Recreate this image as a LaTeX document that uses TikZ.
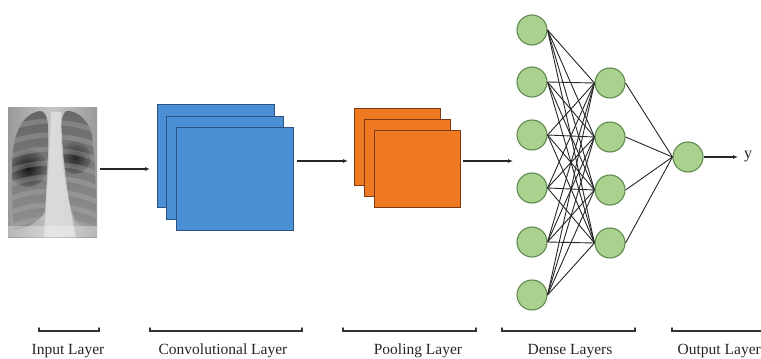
\documentclass[tikz,border=0pt]{standalone}
\usepackage{fontspec}
\setmainfont{Liberation Serif}
\usetikzlibrary{arrows.meta}
\definecolor{convfill}{HTML}{4A8FD4}
\definecolor{convline}{HTML}{2B5281}
\definecolor{poolfill}{HTML}{F07A22}
\definecolor{poolline}{HTML}{7E3A12}
\definecolor{neurfill}{HTML}{AAD28E}
\definecolor{neurline}{HTML}{5F8A4E}
\definecolor{brk}{HTML}{333333}
\begin{document}
\begin{tikzpicture}[x=1pt,y=-1pt,
  convbox/.style={draw=convline,fill=convfill,line width=1.3pt,minimum width=117pt,minimum height=103pt,anchor=north west,inner sep=0pt},
  poolbox/.style={draw=poolline,fill=poolfill,line width=1.3pt,minimum width=86pt,minimum height=77pt,anchor=north west,inner sep=0pt},
  neuron/.style={circle,draw=neurline,fill=neurfill,line width=1.1pt,minimum size=30pt,inner sep=0pt},
  arr/.style={-{Latex[length=5pt,width=4pt]},line width=1.2pt,black!85},
  edge/.style={line width=0.9pt,black!85},
  brack/.style={line width=1.5pt,brk},
  lbl/.style={font=\fontsize{15.5}{17}\selectfont,text=black!85,inner sep=0pt}]
\useasboundingbox (0,0) rectangle (761,359);

% ---------- X-ray ----------
\node[minimum width=89pt,minimum height=130pt,anchor=north west,inner sep=0pt] (xray) at (8,107) {};
\begin{scope}
  \clip (8,107) rectangle (97,237);
  \shade[left color=gray!80,right color=gray!80,middle color=gray!45] (8,107) rectangle (97,237);
  % left lung
  \begin{scope}
    \clip (40,111) .. controls (28,112) and (16,125) .. (13,150) .. controls (11,180) and (12,210) .. (14,230) .. controls (28,228) and (38,222) .. (45,212) .. controls (46,190) and (49,150) .. (48,125) .. controls (47,115) and (44,111) .. (40,111) -- cycle;
    \shade[top color=black!62,bottom color=black!42] (0,100) rectangle (60,240);
    \shade[inner color=black!92,outer color=black!58] (28,168) circle (19);
    \foreach \yy in {121,135,149,163,177,191,205,219}
      \draw[line width=5pt,gray!55,opacity=0.3] (52,\yy) .. controls (35,\yy) and (20,\yy+3) .. (5,\yy+10);
  \end{scope}
  % right lung
  \begin{scope}
    \clip (66,111) .. controls (62,115) and (60,125) .. (61,140) .. controls (63,170) and (66,200) .. (76,222) .. controls (85,227) and (92,229) .. (96,229) .. controls (97,200) and (95,160) .. (92,135) .. controls (88,118) and (75,110) .. (66,111) -- cycle;
    \shade[top color=black!60,bottom color=black!42] (55,100) rectangle (100,240);
    \shade[inner color=black!85,outer color=black!58] (75,158) circle (16);
    \foreach \yy in {123,137,151,165,179,193,207,221}
      \draw[line width=5pt,gray!55,opacity=0.3] (58,\yy) .. controls (72,\yy) and (85,\yy+3) .. (100,\yy+10);
  \end{scope}
  % mediastinum / spine
  \fill[gray!20,opacity=0.7] (51,112) .. controls (50,150) and (47,190) .. (44,237) -- (76,237) .. controls (68,200) and (62,160) .. (61,112) -- cycle;
  \fill[white,opacity=0.3] (8,226) rectangle (97,237);
\end{scope}

% ---------- Convolutional layer ----------
\node[convbox] (conv1) at (157,104) {};
\node[convbox] (conv2) at (166,116) {};
\node[convbox] (conv3) at (176,127) {};

% ---------- Pooling layer ----------
\node[poolbox] (pool1) at (354,108) {};
\node[poolbox] (pool2) at (364,119) {};
\node[poolbox] (pool3) at (374,130) {};

% ---------- Dense layers ----------
\foreach \i/\yy in {1/30,2/82,3/135,4/188,5/242,6/295}
  \node[neuron] (a\i) at (532,\yy) {};
\foreach \j/\yy in {1/83,2/137,3/190,4/243}
  \node[neuron] (b\j) at (610,\yy) {};
\node[neuron] (out) at (688,157) {};
\foreach \i in {1,...,6}
  \foreach \j in {1,...,4}
    \draw[edge] (a\i.east) -- (b\j.west);
\foreach \j in {1,...,4}
  \draw[edge] (b\j.east) -- (out.west);

% ---------- Arrows ----------
\coordinate (e1) at (150,169);
\coordinate (s2) at (297,161);
\coordinate (e2) at (348,161);
\coordinate (s3) at (463,161);
\coordinate (e3) at (513,161);
\node[lbl,font=\fontsize{16}{18}\selectfont,anchor=west] (y) at (744,157) {y};
\draw[arr] (xray.east |- e1) ++(3,0) -- (e1);
\draw[arr] (s2) -- (e2);
\draw[arr] (s3) -- (e3);
\draw[arr,shorten >=6pt] (out.east) -- (y.west |- out.east);

% ---------- Brackets & labels ----------
\foreach \n/\xa/\xb in {in/39/99,cv/150/302,pl/343/476,dn/502/635,ot/672/762}{
  \coordinate (\n L) at (\xa,328);
  \coordinate (\n R) at (\xb,328);
  \draw[brack,line cap=round] (\n L) -- ++(0,3) -- (\n R |- 0,331) -- (\n R);
}
\node[lbl] (tin) at (68,351) {Input Layer};
\node[lbl] (tcv) at (223,351) {Convolutional Layer};
\node[lbl] (tpl) at (418,351) {Pooling Layer};
\node[lbl] (tdn) at (570,351) {Dense Layers};
\node[lbl,anchor=east] (tot) at (761,351) {Output Layer};
\end{tikzpicture}
\end{document}
